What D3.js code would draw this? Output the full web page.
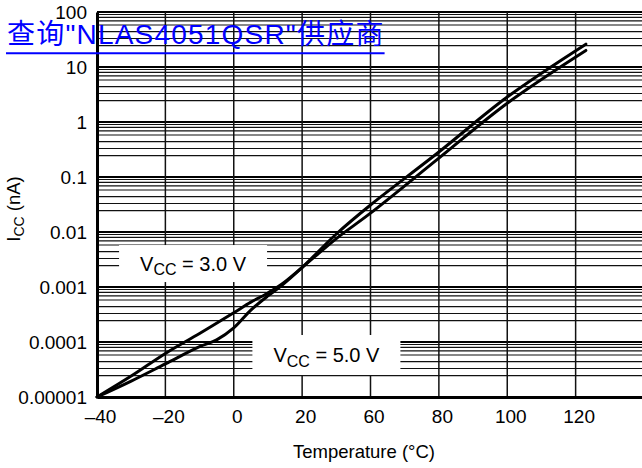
<!DOCTYPE html>
<head>
<meta charset="utf-8">
<title>ICC vs Temperature</title>
<style>
	body{margin:0;background:#fff;}
	svg{display:block;}
	text{font-family:"Liberation Sans",Arial,Helvetica,"Noto Sans CJK SC",sans-serif;fill:#000;}
	.axis text{font-size:19px;}
	.axis line{display:none;}
	.axis path{stroke:#000;stroke-width:3;fill:none;}
	.gridV{stroke:#111;stroke-width:1.5;}
	.gridMajor{stroke:#000;stroke-width:2;}
	.gridMinor{stroke:#111;stroke-width:1.2;}
	.curve{fill:none;stroke:#000;stroke-width:3;stroke-linejoin:round;stroke-linecap:round;}
	.anno rect{fill:#fff;}
	.anno text{font-size:20px;text-anchor:middle;}
	.title{font-size:18.5px;}
	.link{font-size:28px;fill:#0000ff;letter-spacing:1.2px;}
</style>
<script src="https://d3js.org/d3.v7.min.js"></script>
</head>
<body>
<svg id="chart" width="642" height="468"></svg>
<script>
// 軸の目盛り（元図のラベルそのまま：40 は抜けている）
var xTickVals   = [-40, -20, 0, 20, 60, 80, 100, 120];
var xTickLabels = ["\u201340", "\u201320", "0", "20", "60", "80", "100", "120"];
var yTickVals   = [1e-5, 1e-4, 1e-3, 1e-2, 0.1, 1, 10, 100];
var yTickLabels = ["0.00001", "0.0001", "0.001", "0.01", "0.1", "1", "10", "100"];
var minorSteps  = [2.45, 3.3, 4.4, 5.8, 6.9, 8, 9];   // 1桁内の補助線

// VCC = 3.0 V
var temp30 = [-40, -30, -20, -10, 0, 5, 10, 14, 20, 40, 60, 80, 100, 123];
var icc30  = [1e-5, 2.4e-5, 6.2e-5, 1.43e-4, 3.4e-4, 5.3e-4, 7.8e-4, 1.12e-3, 2.26e-3, 7.6e-3, 2.2e-2, 0.22, 2.2, 20];
// VCC = 5.0 V
var temp50 = [-40, -30, -20, -10, -5, 0, 5, 10, 14, 20, 40, 60, 80, 100, 123];
var icc50  = [1e-5, 1.95e-5, 4.0e-5, 8.2e-5, 1.09e-4, 1.8e-4, 3.8e-4, 6.9e-4, 1.06e-3, 2.26e-3, 9.2e-3, 3.1e-2, 0.285, 2.85, 26];

// 注記ラベル（中心位置をデータ単位で）
var annoVolts = ["3.0 V", "5.0 V"];
var annoTemp  = [-11.9, 34.2];
var annoIcc   = [2.67e-3, 5.8e-5];

var linkText = "\u67e5\u8be2\"NLAS4051QSR\"\u4f9b\u5e94\u5546";

var plotL = 97, plotR = 644, plotT = 12, plotB = 397;
var svg = d3.select("#chart");

// x は目盛りごとに等間隔（区分線形）
var xDomain = xTickVals.concat([140]);
var x = d3.scaleLinear()
	.domain(xDomain)
	.range(xDomain.map(function(d, i){ return plotL + i * (plotR - plotL) / 8; }));
var y = d3.scaleLog().domain([1e-5, 100]).range([plotB, plotT]);

//補助線
var minorVals = [];
yTickVals.slice(0, -1).forEach(function(dec){
	minorSteps.forEach(function(m){ minorVals.push(dec * m); });
});
svg.append("g").selectAll("line").data(minorVals).enter().append("line")
	.attr("class", "gridMinor")
	.attr("x1", plotL).attr("x2", 642)
	.attr("y1", function(d){ return y(d); }).attr("y2", function(d){ return y(d); });
svg.append("g").selectAll("line").data(yTickVals.slice(1)).enter().append("line")
	.attr("class", "gridMajor")
	.attr("x1", plotL).attr("x2", 642)
	.attr("y1", function(d){ return y(d); }).attr("y2", function(d){ return y(d); });
svg.append("g").selectAll("line").data(xTickVals.slice(1)).enter().append("line")
	.attr("class", "gridV")
	.attr("x1", function(d){ return x(d); }).attr("x2", function(d){ return x(d); })
	.attr("y1", plotT).attr("y2", plotB);

//注記（白い箱で格子を隠す）
var anno = svg.append("g").selectAll("g").data(annoVolts).enter().append("g")
	.attr("class", "anno")
	.attr("transform", function(d, i){ return "translate(" + x(annoTemp[i]) + "," + y(annoIcc[i]) + ")"; });
anno.append("rect")
	.attr("x", -74).attr("y", function(d, i){ return i ? -20 : -18.5; })
	.attr("width", 148).attr("height", function(d, i){ return i ? 40 : 37; });
var at = anno.append("text").attr("y", 7.3);
at.append("tspan").text("V");
at.append("tspan").attr("dy", 4.5).style("font-size", "16px").text("CC");
at.append("tspan").attr("dy", -4.5).text(function(d){ return " = " + d; });

//曲線
var line = d3.line()
	.x(function(d){ return x(d[0]); })
	.y(function(d){ return y(d[1]); })
	.curve(d3.curveCatmullRom.alpha(0.5));
svg.append("path").attr("class", "curve")
	.attr("d", line(d3.zip(temp30, icc30)));
svg.append("path").attr("class", "curve")
	.attr("d", line(d3.zip(temp50, icc50)));

//軸
svg.append("g").attr("class", "axis")
	.attr("transform", "translate(0," + plotB + ")")
	.call(d3.axisBottom(x).tickValues(xTickVals)
		.tickFormat(function(d, i){ return xTickLabels[i]; })
		.tickSize(0).tickPadding(12.5))
	.selectAll("text").attr("dx", 3);
svg.append("g").attr("class", "axis")
	.attr("transform", "translate(" + plotL + ",0)")
	.call(d3.axisLeft(y).tickValues(yTickVals)
		.tickFormat(function(d, i){ return yTickLabels[i]; })
		.tickSize(0).tickPadding(10));

//軸タイトル
svg.append("text").attr("class", "title")
	.attr("x", 364).attr("y", 458).attr("text-anchor", "middle")
	.text("Temperature (\u00b0C)");
var yt = svg.append("text").attr("class", "title")
	.attr("transform", "translate(20,209) rotate(-90)")
	.attr("text-anchor", "middle");
yt.append("tspan").text("I");
yt.append("tspan").attr("dy", 4).style("font-size", "14px").text("CC");
yt.append("tspan").attr("dy", -4).text(" (nA)");

//リンク文字
var link = svg.append("text").attr("class", "link")
	.attr("x", 7).attr("y", 43.5).text(linkText);
var lw = link.node().getComputedTextLength();
svg.append("line")
	.attr("x1", 6).attr("x2", 7 + lw)
	.attr("y1", 53.3).attr("y2", 53.3)
	.attr("stroke", "#0000ff").attr("stroke-width", 2);
</script>
</body>
</html>
